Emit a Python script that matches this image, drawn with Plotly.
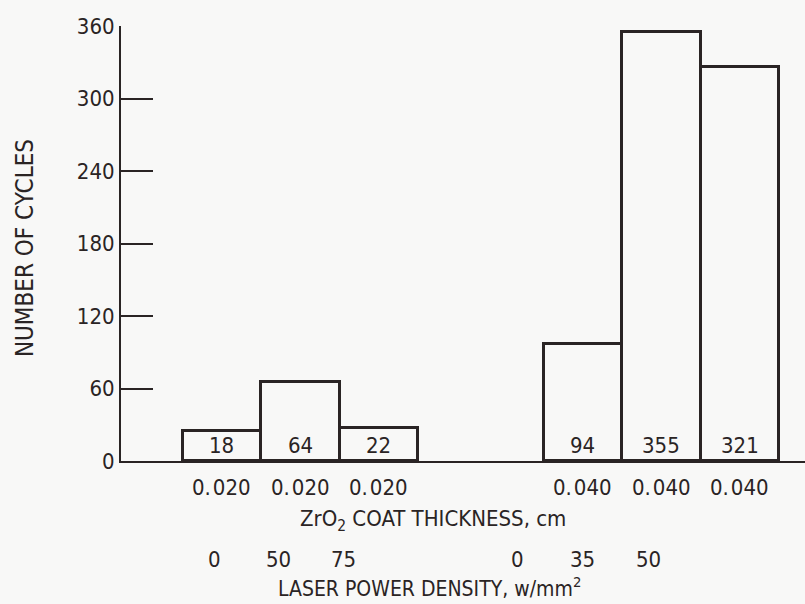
import plotly.graph_objects as go

# ---- data ----
cycles_height = [25, 65, 27, 97, 355, 326]          # bar heights as drawn
cycles_label = ["18", "64", "22", "94", "355", "321"]  # numbers printed in bars
coat_thickness = ["0.\u200a020", "0.\u200a020", "0.\u200a020",
                  "0.\u200a040", "0.\u200a040", "0.\u200a040"]
laser_power = ["0", "50", "75", "0", "35", "50"]
y_ticks = [0, 60, 120, 180, 240, 300, 360]

# ---- layout constants ----
group_of_bar = [0, 0, 0, 1, 1, 1]
index_in_group = [0, 1, 2, 0, 1, 2]
GROUP_SHIFT = 4.6
bar_x = [g * GROUP_SHIFT + i for g, i in zip(group_of_bar, index_in_group)]
power_x = [-0.1, 0.72, 1.55, 3.77, 4.6, 5.43]

FONT = "DejaVu Sans Condensed, Liberation Sans Narrow, Arial Narrow, sans-serif"
INK = "#2a2424"
BG = "#f8f8f7"

fig = go.Figure()
fig.add_trace(go.Bar(
    x=bar_x, y=cycles_height, width=1.0,
    marker=dict(color=BG, line=dict(color=INK, width=3)),
    hoverinfo="skip", showlegend=False,
))

ann = []
for x, lab in zip(bar_x, cycles_label):
    ann.append(dict(x=x, y=0, xref="x", yref="y", text=lab, showarrow=False,
                    yanchor="bottom", yshift=1, font=dict(size=22, color=INK, family=FONT)))
for x, lab in zip(bar_x, coat_thickness):
    ann.append(dict(x=x, y=0, xref="x", yref="y", text=lab, showarrow=False,
                    yanchor="middle", yshift=-26, font=dict(size=22, color=INK, family=FONT)))
for x, lab in zip(power_x, laser_power):
    ann.append(dict(x=x, y=0, xref="x", yref="y", text=lab, showarrow=False,
                    yanchor="middle", yshift=-98, font=dict(size=22, color=INK, family=FONT)))
ann.append(dict(x=2.69, y=0, xref="x", yref="y", text="ZrO<sub>2</sub> COAT THICKNESS, cm",
                showarrow=False, yanchor="middle", yshift=-59,
                font=dict(size=22, color=INK, family=FONT)))
ann.append(dict(x=2.64, y=0, xref="x", yref="y", text="LASER POWER DENSITY, w/mm<sup>2</sup>",
                showarrow=False, yanchor="middle", yshift=-126,
                font=dict(size=21, color=INK, family=FONT)))
ann.append(dict(x=-0.140, y=0.49, xref="paper", yref="paper", text="NUMBER OF CYCLES",
                showarrow=False, textangle=-90, xanchor="center", yanchor="middle",
                font=dict(size=24, color=INK, family=FONT)))

fig.update_layout(
    width=805, height=604,
    margin=dict(l=121, r=0, t=26, b=143),
    paper_bgcolor=BG, plot_bgcolor=BG,
    bargap=0,
    annotations=ann,
    xaxis=dict(range=[-1.287, 7.43], showticklabels=False, ticks="", showgrid=False,
               zeroline=False, showline=True, linecolor=INK, linewidth=2),
    yaxis=dict(range=[0, 360], tickvals=y_ticks, ticks="inside", ticklen=32, tickwidth=2,
               tickcolor=INK, showgrid=False, zeroline=False, showline=True,
               linecolor=INK, linewidth=2,
               tickfont=dict(size=22, color=INK, family=FONT)),
)

fig.write_html(
    "out.html",
    config={"displayModeBar": False},
    post_script="document.body.style.margin='0';document.body.style.padding='0';"
                "document.body.style.background='" + BG + "';",
)
